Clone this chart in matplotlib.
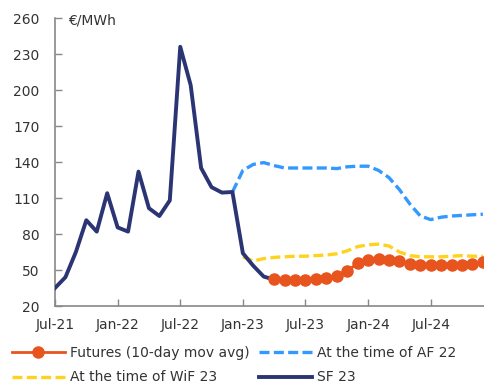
import numpy as np
import pandas as pd
from matplotlib import pyplot as plt

plt.rcParams['font.family'] = 'DejaVu Sans'

# monthly index starting Jul-21
months = pd.date_range("2021-07-01", "2024-12-01", freq="MS")

sf23 = [35, 44, 65, 91.5, 82, 114, 85.5, 82, 132, 101.5, 95, 108,
        236, 204, 135, 119, 114.5, 115, 64, 53.5, 44.5, 42]
sf23_start = 0

af22 = [115, 133, 138, 139.5, 137, 135, 135, 135, 135, 135, 134.5, 136,
        136.5, 136.5, 133, 127, 117, 105, 95, 92, 94, 95, 95.5, 96, 96.5]
af22_start = 17

wif23 = [61, 57.5, 59.5, 60.5, 61, 61.5, 61.5, 62, 62.5, 63.5, 66, 69.5,
         71, 71.5, 70, 65, 62, 61, 61, 61, 61.5, 62, 61.5, 61.5]
wif23_start = 18

futures = [42.2, 41.7, 41.7, 41.7, 42.5, 43.3, 45.3, 49.2, 55.6, 58.3, 58.9,
           58.3, 57.2, 54.7, 53.9, 53.9, 53.9, 53.9, 54.4, 55, 56.4]
futures_start = 21

xticks = [0, 6, 12, 18, 24, 30, 36]
xticklabels = ["Jul-21", "Jan-22", "Jul-22", "Jan-23", "Jul-23", "Jan-24", "Jul-24"]
yticks = np.arange(20, 261, 30)

navy = "#2c3574"
orange = "#e8541e"
blue = "#3399ff"
yellow = "#ffd21f"

fig = plt.figure(figsize=(4.85, 3.86), dpi=100)
ax = fig.add_axes([55 / 485, 1 - 306 / 386, 1 - 55 / 485, (306 - 18) / 386])

def xs(start, vals):
    return np.arange(start, start + len(vals))

h_fut, = ax.plot(xs(futures_start, futures), futures, color=orange, lw=2,
                 marker="o", markersize=8, label="Futures (10-day mov avg)",
                 zorder=4)
h_af, = ax.plot(xs(af22_start, af22), af22, color=blue, lw=2.4,
                ls=(0, (3, 1.3)), label="At the time of AF 22", zorder=2)
h_wif, = ax.plot(xs(wif23_start, wif23), wif23, color=yellow, lw=2.4,
                 ls=(0, (3, 1.3)), label="At the time of WiF 23", zorder=2)
h_sf, = ax.plot(xs(sf23_start, sf23), sf23, color=navy, lw=2.8, label="SF 23",
                zorder=3)

ax.set_xlim(0, 41.2)
ax.set_ylim(20, 260)
ax.set_xticks(xticks)
ax.set_xticklabels(xticklabels)
ax.set_yticks(yticks)
for s in ["top", "right"]:
    ax.spines[s].set_visible(False)
for s in ["left", "bottom"]:
    ax.spines[s].set_color("#888888")
    ax.spines[s].set_linewidth(1.2)
ax.tick_params(direction="in", length=5, width=1, color="#888888",
               labelsize=10, labelcolor="#333333")
ax.tick_params(axis="y", pad=11)
ax.tick_params(axis="x", pad=9)
ax.text(0.03, 0.99, "€/MWh", transform=ax.transAxes, fontsize=10,
        color="#333333", va="center", ha="left")

fig.legend([h_fut, h_wif, h_af, h_sf],
           [h.get_label() for h in [h_fut, h_wif, h_af, h_sf]],
           loc="upper left", bbox_to_anchor=(12 / 485, 1 - 346 / 386),
           ncol=2, frameon=False, fontsize=10, handlelength=3.8,
           handletextpad=0.35, columnspacing=0.7, labelspacing=0.75,
           borderpad=0, borderaxespad=0, labelcolor="#333333")

fig.savefig("out.png", dpi=100)
